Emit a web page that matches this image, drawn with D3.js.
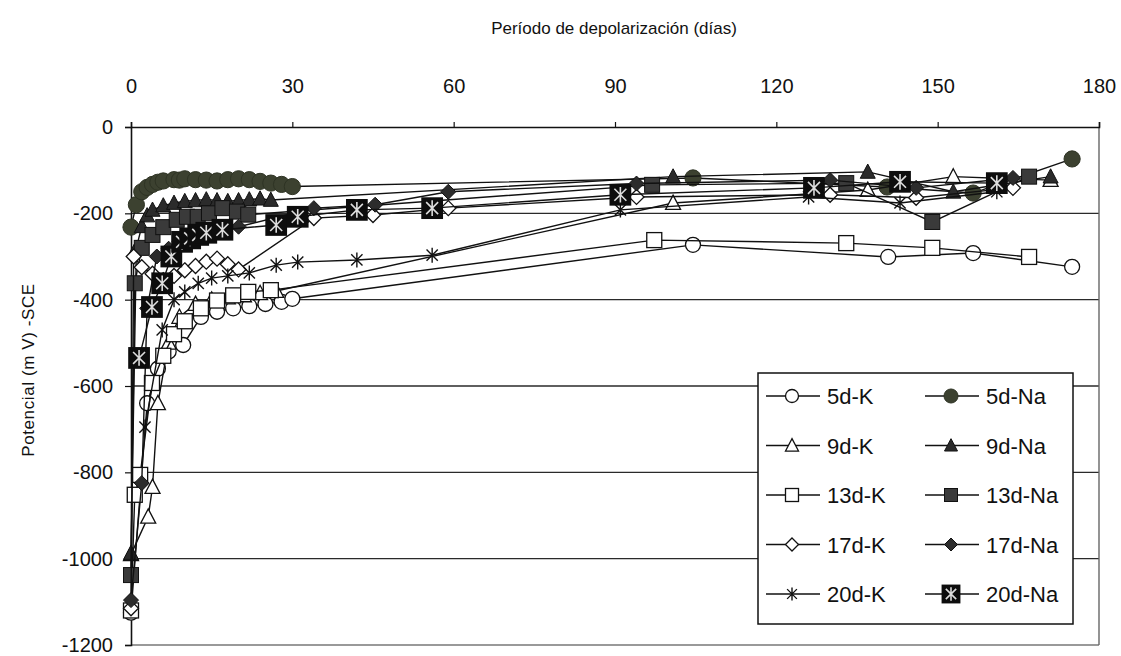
<!DOCTYPE html>
<html>
<head>
<meta charset="utf-8">
<script src="https://cdn.jsdelivr.net/npm/d3@7"></script>
<style>
  html, body { margin: 0; padding: 0; background: #fff; }
  svg { display: block; }
  text { font-family: "Liberation Sans", Arial, sans-serif; fill: #111; }
</style>
</head>
<body>
<svg id="chart" width="1121" height="656"></svg>
<script>
// ---------------- DATA ----------------
const xTicks = [0, 30, 60, 90, 120, 150, 180];
const yTicks = [0, -200, -400, -600, -800, -1000, -1200];
const gridValues = [-200, -400, -600, -800, -1000];

// [day, potential mV]
const s5dK = [[0,-1125],[3,-640],[5,-560],[7,-520],[9.7,-505],[13,-440],[16,-428],[19,-420],[22,-415],[25,-410],[28,-405],[30,-398],[104.5,-273],[140.8,-301],[156.6,-292],[175,-324]];
const s5dNa = [[0,-232],[1,-180],[2,-150],[3,-140],[4,-133],[5,-128],[6,-125],[8,-122],[9,-123],[10,-120],[12,-122],[14,-123],[16,-125],[18,-122],[20,-120],[22,-122],[24,-126],[26,-130],[28,-133],[30,-138],[104.5,-118],[140.6,-139],[156.6,-153],[175,-74]];
const s9dK = [[0,-990],[3.2,-903],[4,-834],[5,-640],[7,-500],[9,-440],[12,-410],[15,-400],[18,-395],[21,-390],[24,-385],[27,-380],[100.8,-176],[137,-146],[152.9,-115],[171,-123]];
const s9dNa = [[0,-987],[1,-280],[2,-230],[3,-205],[4,-192],[6,-182],[8,-176],[10,-172],[12,-170],[14,-168],[16,-170],[18,-172],[20,-170],[22,-168],[24,-166],[26,-169],[100.8,-115],[137,-104],[152.9,-150],[171,-115]];
const s13dK = [[0,-1120],[0.7,-852],[1.7,-806],[3.9,-593],[6,-530],[8,-480],[10,-450],[13,-420],[16,-402],[19,-390],[21.8,-382],[26,-378],[97.3,-262],[133,-269],[149,-280],[167,-301]];
const s13dNa = [[0,-1038],[0.7,-362],[2,-280],[4,-250],[6,-232],[8.5,-215],[10.4,-208],[12.4,-208],[14.5,-200],[17,-188],[19.7,-196],[21.8,-203],[96.9,-134],[133,-130],[149,-220],[167,-115]];
const s17dK = [[0,-1115],[0.5,-300],[2,-325],[4,-340],[6,-355],[8,-345],[10,-332],[12,-322],[14,-312],[16,-305],[18,-318],[20,-330],[34,-211],[45,-204],[59,-188],[94,-162],[130,-157],[146,-164],[164,-141]];
const s17dNa = [[0,-1096],[2,-825],[3,-420],[4.8,-300],[7,-282],[9,-266],[11,-256],[13,-250],[15,-245],[17,-240],[20,-231],[34,-188],[45.4,-180],[59,-150],[94,-131],[130,-123],[146,-141],[164,-118]];
const s20dK = [[2.6,-695],[5.8,-470],[8,-400],[10,-382],[12.5,-362],[15,-350],[18,-345],[22,-338],[27,-320],[31,-313],[42,-308],[56,-297],[91,-192],[126,-162],[143,-176],[161,-150]];
const s20dNa = [[1.5,-535],[3.9,-417],[5.8,-362],[7.5,-300],[9.5,-266],[11,-258],[12.5,-250],[14,-245],[17,-238],[27,-227],[31,-208],[42,-192],[56,-188],[91,-157],[127,-141],[143,-127],[161,-130]];

const seriesNames = ["5d-K","5d-Na","9d-K","9d-Na","13d-K","13d-Na","17d-K","17d-Na","20d-K","20d-Na"];
const seriesData  = [s5dK, s5dNa, s9dK, s9dNa, s13dK, s13dNa, s17dK, s17dNa, s20dK, s20dNa];
const seriesMarker = ["circleOpen","circleFilled","triOpen","triFilled","sqOpen","sqFilled","diaOpen","diaFilled","star","starSq"];

// ---------------- CHART ----------------
const svg = d3.select("#chart");
const L = 131, R = 1099, T = 127, B = 645;
const x = d3.scaleLinear().domain([0, 180]).range([L, R]);
const y = d3.scaleLinear().domain([0, -1200]).range([T, B]);

// gridlines
svg.append("g").selectAll("line").data(gridValues).join("line")
  .attr("x1", L).attr("x2", R)
  .attr("y1", d => y(d)).attr("y2", d => y(d))
  .attr("stroke", "#2a2a2a").attr("stroke-width", 1.4);

// bottom border and right border
svg.append("line").attr("x1", L).attr("x2", R).attr("y1", y(-1200)).attr("y2", y(-1200))
  .attr("stroke", "#777").attr("stroke-width", 1.6);
svg.append("line").attr("x1", R).attr("x2", R).attr("y1", T).attr("y2", B)
  .attr("stroke", "#666").attr("stroke-width", 1.4);

// top axis
const xAxis = svg.append("g").attr("transform", `translate(0,${T})`)
  .call(d3.axisTop(x).tickValues(xTicks).tickSize(5).tickPadding(29).tickFormat(d => String(d)));
xAxis.select(".domain").attr("stroke", "#111").attr("stroke-width", 1.6);
xAxis.selectAll(".tick line").attr("stroke", "#111").attr("stroke-width", 1.2);
xAxis.selectAll("text").style("font-size", "20px").attr("fill", "#111")
  .style("font-family", "'Liberation Sans', Arial, sans-serif");

// left axis
const yAxis = svg.append("g").attr("transform", `translate(${L},0)`)
  .call(d3.axisLeft(y).tickValues(yTicks).tickSize(6).tickPadding(12).tickFormat(d => String(d)));
yAxis.select(".domain").attr("stroke", "#111").attr("stroke-width", 1.6);
yAxis.selectAll(".tick line").attr("stroke", "#111").attr("stroke-width", 1.2);
yAxis.selectAll("text").style("font-size", "20px").attr("fill", "#111")
  .style("font-family", "'Liberation Sans', Arial, sans-serif");

// titles
svg.append("text").attr("x", 614).attr("y", 34).attr("text-anchor", "middle")
  .style("font-size", "17px").text("Período de depolarización (días)");
svg.append("text").attr("transform", "translate(34,370) rotate(-90)").attr("text-anchor", "middle")
  .style("font-size", "17px").style("letter-spacing", "0.6px").text("Potencial (m V) -SCE");

// marker drawing
function drawMarker(g, type, s) {
  const h = s / 2;
  switch (type) {
    case "circleOpen":
      g.append("circle").attr("r", h).attr("fill", "#fff").attr("stroke", "#111").attr("stroke-width", 1.3); break;
    case "circleFilled":
      g.append("circle").attr("r", h * 1.08).attr("fill", "#3c4130").attr("stroke", "#2e3324").attr("stroke-width", 1); break;
    case "triOpen":
      g.append("path").attr("d", `M0,${-h*1.05}L${h},${h*0.85}L${-h},${h*0.85}Z`).attr("fill", "#fff").attr("stroke", "#111").attr("stroke-width", 1.3); break;
    case "triFilled":
      g.append("path").attr("d", `M0,${-h*1.05}L${h},${h*0.85}L${-h},${h*0.85}Z`).attr("fill", "#2b2b2b").attr("stroke", "#111").attr("stroke-width", 1); break;
    case "sqOpen":
      g.append("rect").attr("x", -h).attr("y", -h).attr("width", s).attr("height", s).attr("fill", "#fff").attr("stroke", "#111").attr("stroke-width", 1.3); break;
    case "sqFilled":
      g.append("rect").attr("x", -h).attr("y", -h).attr("width", s).attr("height", s).attr("fill", "#3a3a3a").attr("stroke", "#111").attr("stroke-width", 1); break;
    case "diaOpen":
      g.append("path").attr("d", `M0,${-h}L${h},0L0,${h}L${-h},0Z`).attr("fill", "#fff").attr("stroke", "#111").attr("stroke-width", 1.3); break;
    case "diaFilled":
      g.append("path").attr("d", `M0,${-h}L${h},0L0,${h}L${-h},0Z`).attr("fill", "#2c2c2c").attr("stroke", "#111").attr("stroke-width", 1); break;
    case "star": {
      const a = h * 0.75;
      g.append("path").attr("d", `M0,${-h}L0,${h}M${-a},${-a}L${a},${a}M${-a},${a}L${a},${-a}`)
        .attr("stroke", "#111").attr("stroke-width", 1.4).attr("fill", "none"); break;
    }
    case "starSq": {
      const S = s * 1.45, H = S / 2, a = H * 0.55, v = H * 0.72;
      g.append("rect").attr("x", -H).attr("y", -H).attr("width", S).attr("height", S).attr("fill", "#0d0d0d");
      g.append("path").attr("d", `M0,${-v}L0,${v}M${-a},${-a}L${a},${a}M${-a},${a}L${a},${-a}`)
        .attr("stroke", "#ddd").attr("stroke-width", 1.6).attr("fill", "none"); break;
    }
  }
}

const line = d3.line().x(d => x(d[0])).y(d => y(d[1]));
const plot = svg.append("g");
seriesData.forEach((data, i) => {
  const g = plot.append("g");
  g.append("path").datum(data).attr("d", line).attr("fill", "none")
    .attr("stroke", "#111").attr("stroke-width", 1.4);
  g.selectAll("g.m").data(data).join("g").attr("class", "m")
    .attr("transform", d => `translate(${x(d[0])},${y(d[1])})`)
    .each(function () { drawMarker(d3.select(this), seriesMarker[i], 15); });
});

// legend
const lg = svg.append("g");
lg.append("rect").attr("x", 758).attr("y", 373).attr("width", 315).attr("height", 251)
  .attr("fill", "#fff").attr("stroke", "#111").attr("stroke-width", 1.5);
seriesNames.forEach((name, i) => {
  const row = Math.floor(i / 2), col = i % 2;
  const cy = 396 + row * 49.5;
  const x0 = col === 0 ? 766 : 925;
  lg.append("line").attr("x1", x0).attr("x2", x0 + 54).attr("y1", cy).attr("y2", cy)
    .attr("stroke", "#111").attr("stroke-width", 1.4);
  const mg = lg.append("g").attr("transform", `translate(${x0 + 26},${cy})`);
  drawMarker(mg, seriesMarker[i], 13);
  lg.append("text").attr("x", x0 + 61).attr("y", cy + 8).style("font-size", "22px").text(name);
});
</script>
</body>
</html>
